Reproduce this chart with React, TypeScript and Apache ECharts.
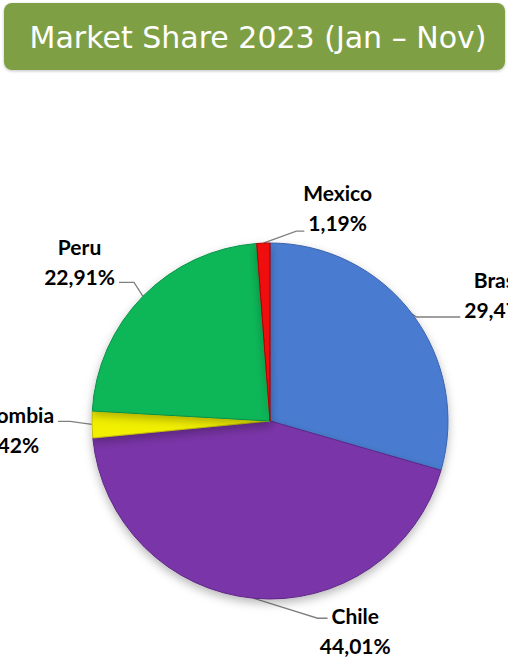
import React, { useEffect, useRef } from "react";
import * as echarts from "echarts";

const TITLE = "Market Share 2023 (Jan – Nov)";
const categories = ["Brasil", "Chile", "Colombia", "Peru", "Mexico"];
const shares = [29.47, 44.01, 2.42, 22.91, 1.19];
const sliceColors = ["#4A7BD0", "#7A36A8", "#F2F000", "#0BB758", "#F00A0A"];
const sliceBorders = ["#3A63AA", "#5E2684", "#C4C000", "#07914A", "#B00000"];

// leader-line style per slice: first segment offset (dx, dy), horizontal run,
// attached text line (0 = name, 1 = value), vertical offset of text vs line
const leaderStyle = [
  { dx: 4, dy: 3, run: 44, line: 1, off: -5 },
  { dx: 64, dy: 20, run: 10, line: 0, off: -1 },
  { dx: -22, dy: -3, run: -12, line: 0, off: -5 },
  { dx: -9, dy: -14, run: -15, line: 1, off: -4 },
  { dx: 33, dy: -12, run: 8, line: 1, off: -7 },
];

const LABEL_FONT_SIZE = 21;
const LABEL_FONT = "Lato";
const LINE_H = 30;
const GAP = 4;
const GLYPH_SHIFT = 2;

const pct = (v: number) => v.toFixed(2).replace(".", ",") + "%";

let measureCtx: CanvasRenderingContext2D | null = null;
function textWidth(t: string): number {
  if (!measureCtx) {
    const c = document.createElement("canvas");
    measureCtx = c.getContext("2d");
  }
  if (!measureCtx) return t.length * 11;
  measureCtx.font = `bold ${LABEL_FONT_SIZE}px ${LABEL_FONT}`;
  return measureCtx.measureText(t).width;
}

export default function App() {
  const ref = useRef<HTMLDivElement>(null);

  useEffect(() => {
    if (!ref.current) return;
    const chart = echarts.init(ref.current, null, { renderer: "svg" });
    const option: any = {
      animation: false,
      backgroundColor: "#ffffff",
      graphic: [
        {
          type: "rect",
          left: 4,
          top: 3,
          shape: { width: 501, height: 67, r: 8 },
          style: {
            fill: "#7F9F45",
            shadowBlur: 3,
            shadowOffsetY: 1,
            shadowColor: "rgba(0,0,0,0.25)",
          },
          z: 1,
        },
        {
          type: "text",
          x: 258,
          y: 37,
          style: {
            text: TITLE,
            fill: "#ffffff",
            font: "30px 'DejaVu Sans'",
            align: "center",
            verticalAlign: "middle",
          },
          z: 2,
        },
      ],
      series: [
        {
          type: "pie",
          center: [270, 421],
          radius: [0, 178],
          startAngle: 90,
          clockwise: true,
          avoidLabelOverlap: false,
          data: categories.map((name, i) => ({
            name,
            value: shares[i],
            itemStyle: {
              color: sliceColors[i],
              borderColor: sliceBorders[i],
              borderWidth: 1,
              shadowBlur: 10,
              shadowOffsetY: 4,
              shadowColor: "rgba(0,0,0,0.28)",
            },
          })),
          label: {
            show: true,
            position: "outside",
            formatter: (p: any) => `${p.name}\n${pct(p.value)}`,
            fontFamily: LABEL_FONT,
            fontWeight: "bold",
            fontSize: LABEL_FONT_SIZE,
            lineHeight: LINE_H,
            color: "#000000",
          },
          labelLine: {
            show: true,
            length: 10,
            length2: 10,
            lineStyle: { color: "#808080", width: 1.3 },
          },
          labelLayout: (params: any) => {
            const i = params.dataIndex;
            const pts = params.labelLinePoints;
            if (!pts || !pts[0]) return {};
            const s = leaderStyle[i];
            const p0 = [pts[0][0], pts[0][1]];
            const p1 = [p0[0] + s.dx, p0[1] + s.dy];
            const p2 = [p1[0] + s.run, p1[1]];
            const lines = [categories[i], pct(shares[i])];
            const w = textWidth(lines[s.line]);
            const side = s.run >= 0 ? 1 : -1;
            const lineCenter = p2[1] + s.off - GLYPH_SHIFT;
            return {
              x: p2[0] + side * (GAP + w / 2),
              y: lineCenter + (s.line === 0 ? LINE_H / 2 : -LINE_H / 2),
              align: "center",
              verticalAlign: "middle",
              labelLinePoints: [p0, p1, p2],
            };
          },
        },
      ],
    };
    chart.setOption(option);
    return () => chart.dispose();
  }, []);

  return (
    <div
      ref={ref}
      style={{ position: "fixed", left: 0, top: 0, width: 508, height: 663 }}
    />
  );
}
